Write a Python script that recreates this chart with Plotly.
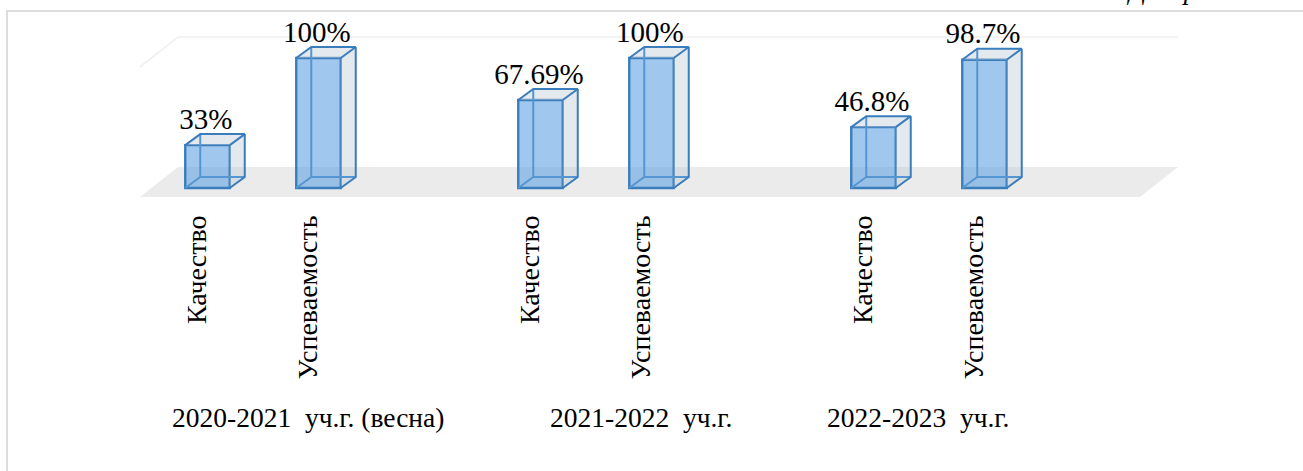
import plotly.graph_objects as go

categories = ["Качество", "Успеваемость", "Качество", "Успеваемость", "Качество", "Успеваемость"]
slots = [0, 1, 3, 4, 6, 7]
values = [33, 100, 67.69, 100, 46.8, 98.7]
value_labels = ["33%", "100%", "67.69%", "100%", "46.8%", "98.7%"]
groups = ["2020-2021\u00a0\u00a0уч.г. (весна)", "2021-2022\u00a0\u00a0уч.г.", "2022-2023\u00a0\u00a0уч.г."]
group_left_px = [170, 548, 825]

W, H = 1303, 471
X0, XS = 207.5, 111.0   # pixel of slot 0, pixels per slot
Y0, YS = 188.0, 1.3     # pixel of 0 %, pixels per %
BW = 44.5 / XS          # bar width in slots
DX, DY = 15 / XS, 11 / YS  # bar depth
FONT = "Liberation Serif"

xr = [(0 - X0) / XS, (W - X0) / XS]
yr = [(Y0 - H) / YS, Y0 / YS]
def xs(px): return (px - X0) / XS
def ys(py): return (Y0 - py) / YS

BLUE = "#3a7dbd"
BLUE_BACK = "#5596d2"

side_x, side_y, back_x, back_y, edge_x, edge_y = [], [], [], [], [], []
for s, v in zip(slots, values):
    l, r = s - BW / 2, s + BW / 2
    # right face and top face
    side_x += [r, r + DX, r + DX, r, None, l, l + DX, r + DX, r, None]
    side_y += [0, DY, v + DY, v, None, v, v + DY, v + DY, v, None]
    # hidden edges seen through the glass
    back_x += [l, l + DX, r + DX, None, l + DX, l + DX, None]
    back_y += [0, DY, DY, None, DY, v + DY, None]
    # visible outer edges
    edge_x += [l, l + DX, r + DX, r, None, r + DX, r + DX, r, None]
    edge_y += [v, v + DY, v + DY, v, None, v + DY, DY, 0, None]

fig = go.Figure()
fig.add_trace(go.Scatter(x=side_x, y=side_y, mode="none", fill="toself",
                         fillcolor="rgba(190,203,215,0.42)", hoverinfo="skip", showlegend=False))
fig.add_trace(go.Bar(x=slots, y=values, width=BW, marker=dict(color="rgba(91,160,228,0.58)",
                     line=dict(color=BLUE, width=2.4)), showlegend=False))
fig.add_trace(go.Scatter(x=back_x, y=back_y, mode="lines", line=dict(color=BLUE_BACK, width=2),
                         hoverinfo="skip", showlegend=False))
fig.add_trace(go.Scatter(x=edge_x, y=edge_y, mode="lines", line=dict(color=BLUE, width=2),
                         hoverinfo="skip", showlegend=False))
fig.add_trace(go.Scatter(x=[s - 0.015 for s in slots], y=[v + 7 for v in values], mode="text", text=value_labels,
                         textposition="top center", textfont=dict(family=FONT, size=29, color="#000"),
                         hoverinfo="skip", showlegend=False))

shapes = [
    dict(type="path", layer="below", line_width=0, fillcolor="#ebebeb",
         path=f"M {xs(140)} {ys(197)} L {xs(178)} {ys(167)} L {xs(1178)} {ys(167)} L {xs(1140)} {ys(197)} Z",
         xref="x", yref="y"),
    dict(type="path", layer="below", line=dict(color="#f0f0f0", width=1.6),
         path=f"M {xs(140)} {ys(67)} L {xs(178)} {ys(37)} L {xs(1178)} {ys(37)}",
         xref="x", yref="y"),
    dict(type="line", xref="paper", yref="paper", x0=7 / W, x1=1, y0=1 - 11 / H, y1=1 - 11 / H,
         line=dict(color="#dcdcdc", width=2), layer="below"),
    dict(type="line", xref="paper", yref="paper", x0=7 / W, x1=7 / W, y0=0, y1=1 - 10 / H,
         line=dict(color="#dcdcdc", width=2), layer="below"),
]

annotations = [dict(text=t, x=px / W, y=1 - 417 / H, xref="paper", yref="paper", xanchor="left", yanchor="middle",
                    showarrow=False, font=dict(family=FONT, size=27.5, color="#000"))
               for t, px in zip(groups, group_left_px)]
annotations.append(dict(text="<i>Диаграмма</i>", x=1124 / W, y=1 - 7 / H, xref="paper", yref="paper",
                        xanchor="left", yanchor="bottom", showarrow=False,
                        font=dict(family=FONT, size=27, color="#000")))

fig.update_layout(
    width=W, height=H, margin=dict(l=0, r=0, t=0, b=0), paper_bgcolor="#fff", plot_bgcolor="#fff",
    showlegend=False, shapes=shapes, annotations=annotations, barmode="overlay",
    xaxis=dict(range=xr, fixedrange=True, showgrid=False, zeroline=False, showline=False, ticks="",
               anchor="free", position=1 - 209 / H,
               tickmode="array", tickvals=[s - 0.097 for s in slots], ticktext=categories, tickangle=-90,
               tickfont=dict(family=FONT, size=28, color="#000")),
    yaxis=dict(range=yr, fixedrange=True, showgrid=False, zeroline=False, showline=False, showticklabels=False),
)
fig.write_html("out.html", config=dict(displayModeBar=False),
               post_script="document.body.style.margin='0';document.documentElement.style.overflow='hidden';")
